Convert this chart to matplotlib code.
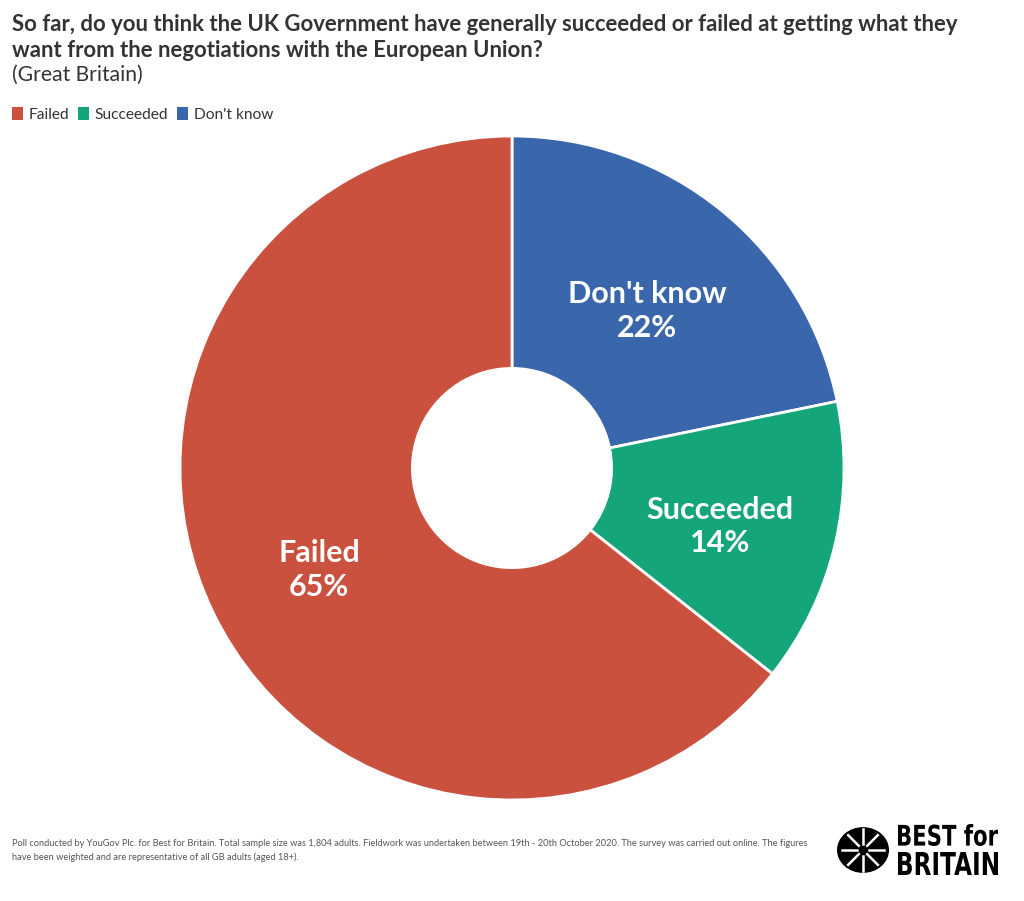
import numpy as np
import matplotlib.pyplot as plt
from matplotlib.patches import Patch, Circle, PathPatch
from matplotlib.textpath import TextPath
from matplotlib.font_manager import FontProperties
from matplotlib.transforms import Affine2D, IdentityTransform

plt.rcParams['font.family'] = ['Lato', 'DejaVu Sans']

# data, drawn clockwise from 12 o'clock
categories = ["Don't know", "Succeeded", "Failed"]
values = [22, 14, 65]
pct_labels = ["22%", "14%", "65%"]
colors = ["#3A67AC", "#14A67A", "#CB513F"]

legend_order = ["Failed", "Succeeded", "Don't know"]

title = ("So far, do you think the UK Government have generally succeeded or failed at getting what they\n"
         "want from the negotiations with the European Union?")
subtitle = "(Great Britain)"
footnote = ("Poll conducted by YouGov Plc. for Best for Britain. Total sample size was 1,804 adults. "
            "Fieldwork was undertaken between 19th - 20th October 2020. The survey was carried out online. The figures\n"
            "have been weighted and are representative of all GB adults (aged 18+).")

W, H = 1024, 901
fig = plt.figure(figsize=(W / 100, H / 100), dpi=100)

# pie axes: centre (512, 468) px, radius 332 px
cx, cy, r = 512, 468, 332
ax = fig.add_axes([(cx - r) / W, (H - cy - r) / H, 2 * r / W, 2 * r / H])
wedges, _ = ax.pie(values, colors=colors, startangle=90, counterclock=False,
                   radius=1.0, wedgeprops=dict(width=0.70, edgecolor='white', linewidth=2))
ax.set_xlim(-1, 1)
ax.set_ylim(-1, 1)
ax.set_aspect('equal')
ax.axis('off')

for w, cat, p in zip(wedges, categories, pct_labels):
    mid = np.deg2rad((w.theta1 + w.theta2) / 2)
    d = 0.645
    ax.text(d * np.cos(mid), d * np.sin(mid) - 0.027, f"{cat}\n{p}", ha='center', va='center',
            color='white', fontsize=22, fontweight='bold', linespacing=1.25)

# title block
fig.text(12 / W, 1 - 14 / H, title, ha='left', va='top', fontsize=15.9, fontweight='bold',
         color='#333333', linespacing=1.3)
fig.text(12 / W, 1 - 65 / H, subtitle, ha='left', va='top', fontsize=15.2, color='#333333')

# legend
cmap = dict(zip(categories, colors))
handles = [Patch(facecolor=cmap[c], edgecolor='none', label=c) for c in legend_order]
fig.legend(handles=handles, loc='upper left', bbox_to_anchor=(-2 / W, 1 - 93 / H), ncol=3,
           frameon=False, fontsize=11.2, handlelength=0.7, handleheight=0.9,
           handletextpad=0.35, columnspacing=0.6, labelcolor='#333333')

# footnote
fig.text(12 / W, 1 - 839 / H, footnote, ha='left', va='top', fontsize=6.7, color='#555555',
         linespacing=1.55)

# logo emblem
lx, ly, lr = 863, 850, 26
fig.patches.append(Circle((lx / W, 1 - ly / H), lr / W, transform=fig.transFigure,
                          facecolor='black', edgecolor='none'))
for ang in range(0, 360, 45):
    a = np.deg2rad(ang)
    fig.lines.append(plt.Line2D([(lx + 6 * np.cos(a)) / W, (lx + 21 * np.cos(a)) / W],
                                [1 - (ly + 6 * np.sin(a)) / H, 1 - (ly + 21 * np.sin(a)) / H],
                                transform=fig.transFigure, color='white', linewidth=1.8))

# logo words, squeezed into their boxes (pixel coords: left, top, right, baseline)
fp = FontProperties(family='DejaVu Sans', weight='bold')
for word, (x0, y_top, x1, y_base) in [("BEST for", (898, 824, 998, 846)),
                                      ("BRITAIN", (898, 852, 998, 875))]:
    tp = TextPath((0, 0), word, size=10, prop=fp)
    ext = tp.get_extents()
    sx = (x1 - x0) / ext.width
    sy = (y_base - y_top) / ext.height
    tr = Affine2D().translate(-ext.x0, -ext.y0).scale(sx, sy).translate(x0, H - y_base)
    fig.patches.append(PathPatch(tr.transform_path(tp), transform=IdentityTransform(),
                                 facecolor='black', edgecolor='none'))

fig.savefig('out.png', dpi=100, facecolor='white')
